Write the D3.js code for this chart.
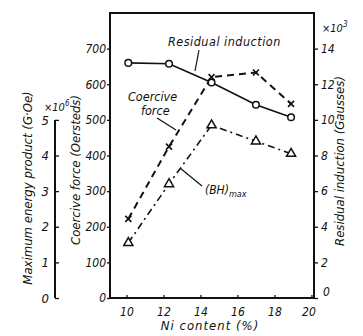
<!DOCTYPE html>
<html><head><meta charset="utf-8">
<script src="https://cdn.jsdelivr.net/npm/d3@7"></script>
<style>
body{margin:0;background:#fff;}
text{font-family:"DejaVu Sans Condensed","Liberation Sans Narrow","DejaVu Sans",sans-serif;font-stretch:condensed;font-style:italic;fill:#111;}
</style></head><body>
<svg id="c" width="363" height="336"></svg>
<script>
const niContent = [10.1, 12.3, 14.6, 17.0, 18.9];
const residualInduction = [13.2, 13.15, 12.1, 10.85, 10.15]; // x10^3 gausses
const coerciveForce = [222, 425, 620, 633, 545]; // oersteds
const bhMax = [1.55, 3.2, 4.85, 4.4, 4.05]; // x10^6 G·Oe
const xTicks = [10, 12, 14, 16, 18, 20];
const coerciveTicks = [0, 100, 200, 300, 400, 500, 600, 700];
const residualTicks = [0, 2, 4, 6, 8, 10, 12, 14];
const energyTicks = [0, 1, 2, 3, 4, 5];

const svg = d3.select("#c");
const L = 110, R = 314, T = 13, B = 298;
const x = d3.scaleLinear().domain([9.11, 20.14]).range([L, R]);
const yC = d3.scaleLinear().domain([0, 800]).range([B, T]);
const yR = d3.scaleLinear().domain([0, 16]).range([B, T]);
const yE = d3.scaleLinear().domain([0, 8]).range([B, T]);

// frame
svg.append("rect").attr("x", L).attr("y", T).attr("width", R - L).attr("height", B - T)
  .attr("fill", "none").attr("stroke", "#111").attr("stroke-width", 2);

function styleAxis(g, fs) {
  g.select(".domain").attr("stroke", "#111").attr("stroke-width", 2);
  g.selectAll(".tick line").attr("stroke", "#111").attr("stroke-width", 1.3);
  g.selectAll(".tick text").attr("font-size", fs).attr("font-family", null).attr("fill", "#111");
}

// x axis
const gx = svg.append("g").attr("transform", `translate(0,${B})`)
  .call(d3.axisBottom(x).tickValues(xTicks).tickSize(-3).tickPadding(9).tickSizeOuter(0));
styleAxis(gx, 12);
gx.select(".domain").remove();
gx.selectAll(".tick text").attr("dx", (d) => d === 20 ? -3 : 0);

// left coercive axis
const gc = svg.append("g").attr("transform", `translate(${L},0)`)
  .call(d3.axisLeft(yC).tickValues(coerciveTicks).tickSize(3).tickPadding(1).tickSizeOuter(0));
styleAxis(gc, 12);
gc.select(".domain").remove();

// right residual axis
const gr = svg.append("g").attr("transform", `translate(${R},0)`)
  .call(d3.axisRight(yR).tickValues(residualTicks).tickSize(4).tickPadding(3).tickSizeOuter(0));
styleAxis(gr, 12);
gr.select(".domain").remove();
gr.selectAll(".tick").filter(d => d === 0).select("text").attr("dy", "-0.2em").attr("dx", 2);

// energy axis
const gE = svg.append("g").attr("transform", `translate(55,0)`)
  .call(d3.axisLeft(yE).tickValues(energyTicks).tickSize(-4).tickPadding(6).tickSizeOuter(0));
gE.select(".domain").attr("d", `M0,${yE(0)}V${yE(5)}`);
styleAxis(gE, 13);

// lines
const line = (ys, sc) => d3.line().x((d, i) => x(niContent[i])).y((d, i) => sc(ys[i]))(ys);
svg.append("path").attr("d", line(residualInduction, yR)).attr("fill", "none")
  .attr("stroke", "#111").attr("stroke-width", 1.6);
svg.append("path").attr("d", line(coerciveForce, yC)).attr("fill", "none")
  .attr("stroke", "#111").attr("stroke-width", 2).attr("stroke-dasharray", "7,5");
svg.append("path").attr("d", line(bhMax, yE)).attr("fill", "none")
  .attr("stroke", "#111").attr("stroke-width", 1.6).attr("stroke-dasharray", "7,4,2,4");

// markers
svg.selectAll(".circ").data(residualInduction).enter().append("circle")
  .attr("cx", (d, i) => x(niContent[i])).attr("cy", d => yR(d)).attr("r", 3.3)
  .attr("fill", "#fff").attr("stroke", "#111").attr("stroke-width", 1.5);
svg.selectAll(".xm").data(coerciveForce).enter().append("path")
  .attr("transform", (d, i) => `translate(${x(niContent[i])},${yC(d)})`)
  .attr("d", "M-3,-3L3,3M-3,3L3,-3")
  .attr("fill", "none").attr("stroke", "#111").attr("stroke-width", 1.6);
svg.selectAll(".tri").data(bhMax).enter().append("path")
  .attr("transform", (d, i) => `translate(${x(niContent[i])},${yE(d)})`)
  .attr("d", d3.symbol().type(d3.symbolTriangle).size(36)())
  .attr("fill", "#fff").attr("stroke", "#111").attr("stroke-width", 1.5);

// annotations
const ann = svg.append("g");
ann.append("text").attr("x", 168).attr("y", 46).attr("font-size", 12.5).attr("letter-spacing", 0.5).text("Residual induction");
ann.append("line").attr("x1", 199).attr("y1", 50).attr("x2", 195).attr("y2", 71).attr("stroke", "#111").attr("stroke-width", 1.2);
ann.append("text").attr("x", 128).attr("y", 101).attr("font-size", 12.5).text("Coercive");
ann.append("text").attr("x", 141).attr("y", 115).attr("font-size", 12.5).text("force");
ann.append("line").attr("x1", 157).attr("y1", 118).attr("x2", 176).attr("y2", 130).attr("stroke", "#111").attr("stroke-width", 1.2);
const bh = ann.append("text").attr("x", 205).attr("y", 194).attr("font-size", 12);
bh.append("tspan").text("(BH)");
bh.append("tspan").attr("font-size", 9).attr("dy", 3).text("max");
ann.append("line").attr("x1", 202).attr("y1", 186).attr("x2", 180).attr("y2", 168).attr("stroke", "#111").attr("stroke-width", 1.2);

// axis titles
svg.append("text").attr("x", 210).attr("y", 330).attr("text-anchor", "middle").attr("font-size", 13)
  .attr("letter-spacing", 1).text("Ni content (%)");
svg.append("text").attr("transform", "translate(80,170) rotate(-90)").attr("text-anchor", "middle")
  .attr("font-size", 13).text("Coercive force (Oersteds)");
svg.append("text").attr("transform", "translate(32,188) rotate(-90)").attr("text-anchor", "middle")
  .attr("font-size", 13).text("Maximum energy product (G·Oe)");
svg.append("text").attr("transform", "translate(344,161) rotate(-90)").attr("text-anchor", "middle")
  .attr("font-size", 13).text("Residual induction (Gausses)");
const e6 = svg.append("text").attr("x", 44).attr("y", 111).attr("font-size", 11);
e6.append("tspan").text("×10");
e6.append("tspan").attr("font-size", 8).attr("dy", -5).text("6");
const e3 = svg.append("text").attr("x", 322).attr("y", 32).attr("font-size", 11);
e3.append("tspan").text("×10");
e3.append("tspan").attr("font-size", 8).attr("dy", -5).text("3");
</script></body></html>
